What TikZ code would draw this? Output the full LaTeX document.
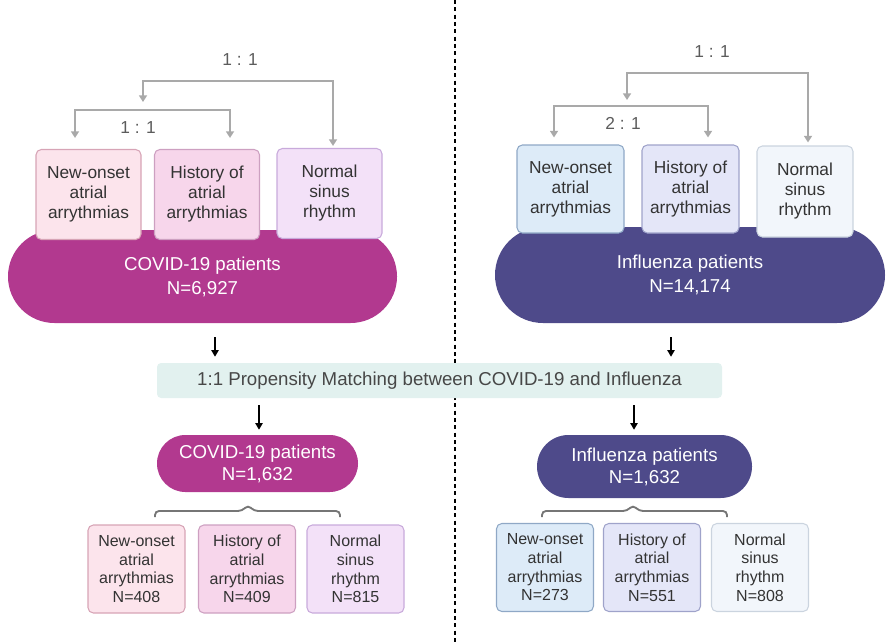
\documentclass[tikz,border=0pt]{standalone}
\usepackage{fontspec}
\setmainfont{Liberation Sans}
\usepackage{tikz}
\usetikzlibrary{arrows.meta,positioning}
\definecolor{covidfill}{HTML}{B2398F}
\definecolor{flufill}{HTML}{4E4A8A}
\definecolor{mintfill}{HTML}{E2F1EF}
\definecolor{textgray}{HTML}{333333}
\definecolor{linegray}{HTML}{A9A9A9}
\definecolor{bracegray}{HTML}{767676}
\definecolor{pinkAfill}{HTML}{FCE4EC}\definecolor{pinkAdraw}{HTML}{D7A4B6}
\definecolor{pinkBfill}{HTML}{F7D6EB}\definecolor{pinkBdraw}{HTML}{CDA0C1}
\definecolor{pinkCfill}{HTML}{F3E1F8}\definecolor{pinkCdraw}{HTML}{C8AADB}
\definecolor{blueAfill}{HTML}{DDEBF8}\definecolor{blueAdraw}{HTML}{8FA8C6}
\definecolor{blueBfill}{HTML}{E4E6F8}\definecolor{blueBdraw}{HTML}{9FA3CA}
\definecolor{blueCfill}{HTML}{F2F6FB}\definecolor{blueCdraw}{HTML}{CBD4DF}
\tikzstyle{grpbox} = [draw, rounded corners=4pt, line width=0.8pt, text centered, align=center, text=textgray, minimum width=78.75pt, minimum height=67.5pt, inner sep=1pt, font=\fontsize{13}{15}\selectfont]
\tikzstyle{subbox} = [grpbox, minimum width=72.75pt, minimum height=66pt, font=\fontsize{12}{14}\selectfont]
\tikzstyle{cohort} = [text=white, align=center, font=\fontsize{14}{18}\selectfont]
\tikzstyle{matched} = [text=white, align=center, font=\fontsize{14}{16.5}\selectfont]
\tikzstyle{matching} = [fill=mintfill, rounded corners=3pt, minimum width=423.75pt, minimum height=26.25pt, text=textgray!90, font=\fontsize{14}{16}\selectfont]
\tikzstyle{rlabel} = [text=textgray!80, font=\fontsize{13}{15}\selectfont]
\tikzstyle{ratio} = [draw, line width=1.5pt, color=linegray, {Triangle[width=6pt,length=5pt]}-{Triangle[width=6pt,length=5pt]}]
\tikzstyle{down} = [draw, line width=1.1pt, color=black, -{Triangle[width=5.5pt,length=5pt]}]
\tikzstyle{brace} = [draw, line width=1.4pt, color=bracegray, rounded corners=3pt]
\tikzstyle{sep} = [draw, line width=1.1pt, dash pattern=on 3pt off 2.5pt]
\tikzset{
  pinkA/.style={fill=pinkAfill, draw=pinkAdraw},
  pinkB/.style={fill=pinkBfill, draw=pinkBdraw},
  pinkC/.style={fill=pinkCfill, draw=pinkCdraw},
  blueA/.style={fill=blueAfill, draw=blueAdraw},
  blueB/.style={fill=blueBfill, draw=blueBdraw},
  blueC/.style={fill=blueCfill, draw=blueCdraw},
}
\newcommand{\cohort}[3]{node (c#1) [cohort,#2] {#3}}
\newcommand{\matched}[3]{node (m#1) [matched,#2] {#3}}
\newcommand{\grpbox}[3]{node (g#1) [grpbox,#2] {#3}}
\newcommand{\subbox}[3]{node (s#1) [subbox,#2] {#3}}

\begin{document}
\begin{tikzpicture}[x=0.75pt,y=-0.75pt]
\useasboundingbox (0,0) rectangle (887,642);
\coordinate (top) at (455,0);
\coordinate (bot) at (455,642);
\path [sep] (top) -- (bot);

% COVID-19 side
\path (202.5,276.5) \cohort{1}{fill=covidfill, minimum width=291.75pt, minimum height=69.75pt, rounded corners=34.8pt}{COVID-19 patients\\N=6,927};
\path (88.5,194.5) \grpbox{1}{pinkA}{New-onset\\atrial\\arrythmias};
\path (207,194.5) \grpbox{2}{pinkB}{History of\\atrial\\arrythmias};
\path (329.5,193.5) \grpbox{3}{pinkC}{Normal\\sinus\\rhythm};
\coordinate (i1) at (75,110);
\coordinate (i2) at (230,110);
\path [ratio, shorten <=8.25pt, shorten >=8.25pt] (g1.north -| i1) -- (i1) -- (i2) -- (g2.north -| i2);
\coordinate (l1) at (143,102);
\coordinate (o1) at (333,81);
\path [ratio, shorten >=1.5pt] (l1) |- (o1) -- (g3.north -| o1);
\path (240,60) node (r1) [rlabel] {1 : 1};
\path (138,128) node (r2) [rlabel] {1 : 1};

% Influenza side
\path (690,275) \cohort{2}{fill=flufill, minimum width=292.5pt, minimum height=72pt, rounded corners=36pt}{Influenza patients\\N=14,174};
\path (570.5,189) \grpbox{4}{blueA, minimum width=80.25pt, minimum height=66pt}{New-onset\\atrial\\arrythmias};
\path (690.5,189) \grpbox{5}{blueB, minimum width=72.75pt, minimum height=66pt}{History of\\atrial\\arrythmias};
\path (805,191.5) \grpbox{6}{blueC, minimum width=72pt, minimum height=68.25pt}{Normal\\sinus\\rhythm};
\coordinate (i3) at (554,106);
\coordinate (i4) at (708,106);
\path [ratio, shorten <=5.25pt, shorten >=5.25pt] (g4.north -| i3) -- (i3) -- (i4) -- (g5.north -| i4);
\coordinate (l2) at (627,100);
\coordinate (o2) at (808,73);
\path [ratio, shorten >=2.25pt] (l2) |- (o2) -- (g6.north -| o2);
\path (712,52) node (r3) [rlabel] {1 : 1};
\path (623,123) node (r4) [rlabel] {2 : 1};

% matching
\path (439.5,380.5) node (pm) [matching] {1:1 Propensity Matching between COVID-19 and Influenza};
\coordinate (a1) at (215,0);
\coordinate (a2) at (671,0);
\path [down, shorten <=10.5pt, shorten >=4.5pt] (c1.south -| a1) -- (pm.north -| a1);
\path [down, shorten <=10.5pt, shorten >=4.5pt] (c2.south -| a2) -- (pm.north -| a2);

\path (257.5,463.5) \matched{1}{fill=covidfill, minimum width=150.75pt, minimum height=42.75pt, rounded corners=21.3pt}{COVID-19 patients\\N=1,632};
\path (644.5,466.5) \matched{2}{fill=flufill, minimum width=161.25pt, minimum height=47.25pt, rounded corners=23.6pt}{Influenza patients\\N=1,632};
\coordinate (a3) at (259,0);
\coordinate (a4) at (634,0);
\path [down, shorten <=5.25pt, shorten >=3.75pt] (pm.south -| a3) -- (m1.north -| a3);
\path [down, shorten <=5.25pt, shorten >=3.75pt] (pm.south -| a4) -- (m2.north -| a4);

\path [brace] (155,517) -- (155,511) -- (242,511) -- (248,505) -- (254,511) -- (340,511) -- (340,517);
\path [brace] (542,517) -- (542,511) -- (627,511) -- (633,505) -- (639,511) -- (727,511) -- (727,517);

\path (136.5,569) \subbox{1}{pinkA}{New-onset\\atrial\\arrythmias\\N=408};
\path (247,569) \subbox{2}{pinkB}{History of\\atrial\\arrythmias\\N=409};
\path (355.5,569) \subbox{3}{pinkC}{Normal\\sinus\\rhythm\\N=815};
\path (545,567.5) \subbox{4}{blueA}{New-onset\\atrial\\arrythmias\\N=273};
\path (652,567.5) \subbox{5}{blueB}{History of\\atrial\\arrythmias\\N=551};
\path (760,567.5) \subbox{6}{blueC}{Normal\\sinus\\rhythm\\N=808};
\end{tikzpicture}
\end{document}
